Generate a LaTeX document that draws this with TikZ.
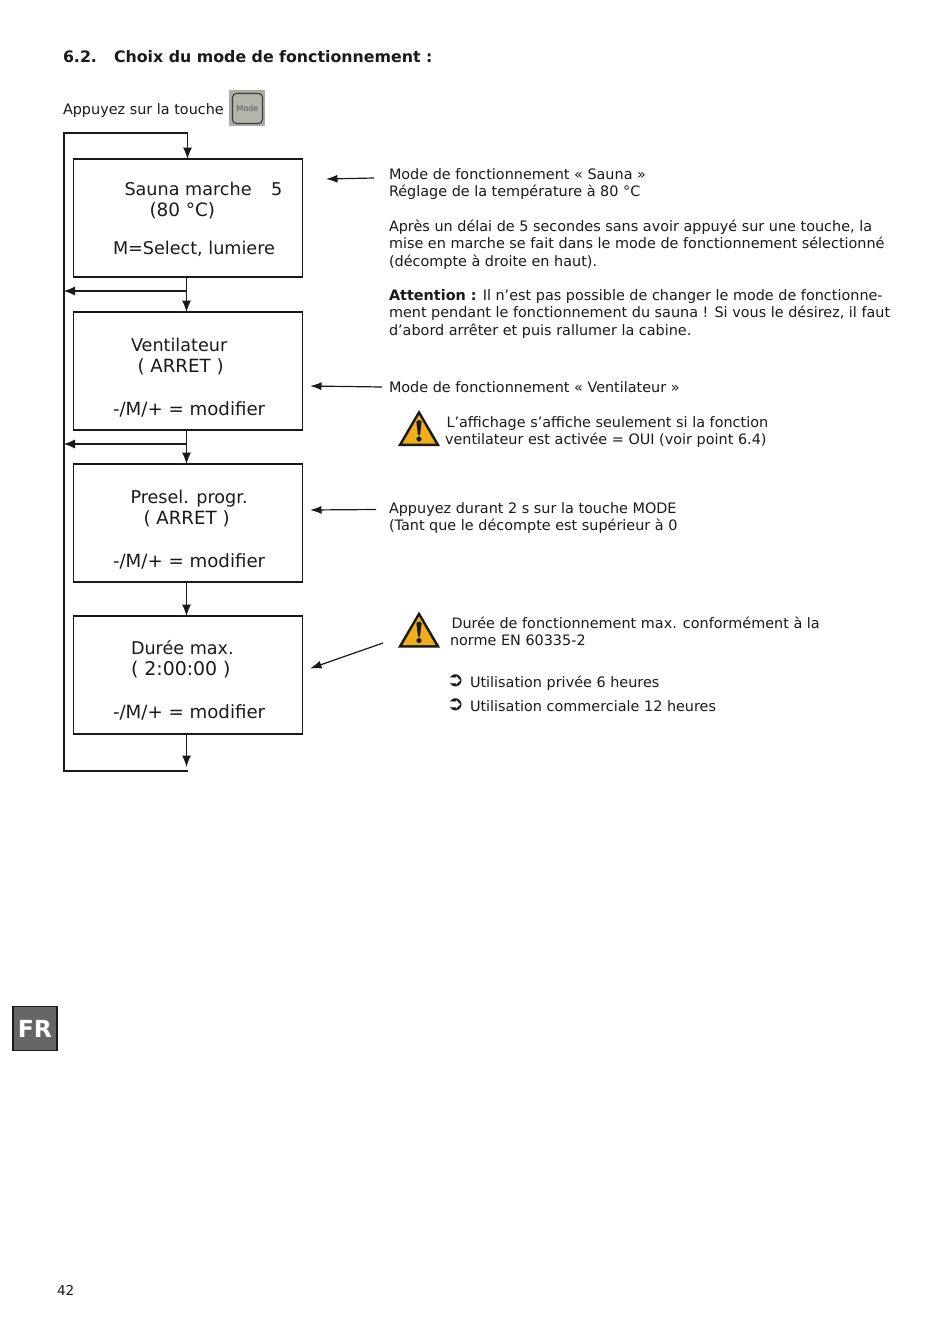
\documentclass[tikz,border=0pt]{standalone}
\usepackage{fontspec}
\setmainfont{DejaVu Sans}
\usetikzlibrary{arrows.meta}
\definecolor{ink}{HTML}{1A1A1A}
\definecolor{warn}{HTML}{F0AE1A}
\definecolor{keyout}{HTML}{ABABA2}
\definecolor{keyin}{HTML}{B4B4AB}
\tikzset{
 x=1pt,y=-1pt,
 every node/.style={inner sep=0pt,outer sep=0pt,text=ink},
 flowbox/.style={draw=ink,line width=1.8pt,fill=white,minimum width=229pt,minimum height=118pt},
 boxtext/.style={font=\fontsize{17.6}{21}\selectfont,anchor=base west},
 wide/.style={font=\fontsize{18.2}{21}\selectfont},
 body/.style={font=\fontsize{14.4}{17.4}\selectfont,align=left,anchor=north west},
 line/.style={draw=ink,line width=1.3pt},
 flow/.style={line,-{Latex[length=11.5pt,width=9pt]}},
 note/.style={draw=ink,line width=1.2pt,-{Latex[length=11.5pt,width=8pt]}},
}
\newcommand{\warnsign}[2]{%
 \fill[ink,line join=round] (#1,#2+36) -- (#1+21,#2) -- (#1+42,#2+36) -- cycle;
 \fill[warn] (#1+4.5,#2+33.5) -- (#1+21,#2+5) -- (#1+37.5,#2+33.5) -- cycle;
 \fill[ink] (#1+18.4,#2+12) .. controls (#1+19,#2+9.5) and (#1+23,#2+9.5) .. (#1+23.6,#2+12) -- (#1+22,#2+25) -- (#1+20,#2+25) -- cycle;
 \fill[ink] (#1+21,#2+29) circle (2.6);
}
\begin{document}
\begin{tikzpicture}
\useasboundingbox (0,0) rectangle (950,1336);
\fill[white] (0,0) rectangle (950,1336);
\node[anchor=base west,font=\fontsize{15.8}{18}\selectfont\bfseries] (title) at (63,62) {6.2.};
\node[anchor=base west,font=\fontsize{15.8}{18}\selectfont\bfseries] (titleb) at (114,62) {Choix du mode de fonctionnement :};
\node[anchor=base west,font=\fontsize{14.4}{17}\selectfont] (press) at (63,114) {Appuyez sur la touche};
% key
\node[fill=keyout,minimum width=36pt,minimum height=36pt] (key) at (247,108) {};
\node[draw=ink!85,line width=1.1pt,rounded corners=4pt,fill=keyin,minimum width=30pt,minimum height=30pt,font=\fontsize{8}{9}\selectfont,text=ink!75] (keyb) at (247.5,108.5) {Mode};
% boxes
\node[flowbox] (a) at (188,218) {};
\node[flowbox] (b) at (188,371) {};
\node[flowbox] (c) at (188,523) {};
\node[flowbox] (d) at (188,675) {};
\node[boxtext] (a1) at (124.5,195) {Sauna marche};
\node[boxtext] (a2) at (271,195) {5};
\node[boxtext,font=\fontsize{18.4}{21}\selectfont] (a3) at (149.5,216) {(80 °C)};
\node[boxtext] (a4) at (113,254) {M=Select, lumiere};
\node[boxtext] (b1) at (131,351.5) {Ventilateur};
\node[boxtext,wide] (b2) at (137.5,372.5) {( ARRET )};
\node[boxtext,wide] (b3) at (113,415) {-/M/+ = modifier};
\node[boxtext] (c1) at (130.5,503.5) {Presel. progr.};
\node[boxtext,wide] (c2) at (143.5,524.5) {( ARRET )};
\node[boxtext,wide] (c3) at (113,567) {-/M/+ = modifier};
\node[boxtext] (d1) at (131,654.5) {Durée max.};
\node[boxtext,font=\fontsize{18.9}{21}\selectfont] (d2) at (131,675.5) {( 2:00:00 )};
\node[boxtext,wide] (d3) at (113,718) {-/M/+ = modifier};
% flow coordinates
\coordinate (loopbl) at (64,771);
\coordinate (looptl) at (64,133);
\coordinate (loopend) at (188,771);
\coordinate (topin) at (187.5,133);
\coordinate (j1) at (186.5,291);
\coordinate (w1) at (63.5,291);
\coordinate (j2) at (186.5,444);
\coordinate (w2) at (63.5,444);
\coordinate (dout) at (186.5,767);
% flow lines
\draw[line] (loopend) -- (loopbl) -- (looptl) -- (topin);
\draw[flow] (topin) -- (topin |- a.north);
\draw[flow] (j1 |- a.south) -- (j1 |- b.north);
\draw[flow] (j1) -- (w1);
\draw[flow] (j2 |- b.south) -- (j2 |- c.north);
\draw[flow] (j2) -- (w2);
\draw[flow] (j2 |- c.south) -- (j2 |- d.north);
\draw[flow] (j2 |- d.south) -- (dout);
% note arrows
\coordinate (n1s) at (374,178);
\coordinate (n1e) at (326,179);
\coordinate (n2s) at (382,387);
\coordinate (n2e) at (310,386);
\coordinate (n3s) at (376,509.5);
\coordinate (n3e) at (310,510);
\coordinate (n4s) at (383,643);
\coordinate (n4e) at (310,668.5);
\draw[note] (n1s) -- (n1e);
\draw[note] (n2s) -- (n2e);
\draw[note] (n3s) -- (n3e);
\draw[note] (n4s) -- (n4e);
% notes
\node[body] (t1) at (389,168.5) {Mode de fonctionnement « Sauna »\\Réglage de la température à 80 °C};
\node[body] (t2) at (389,220) {Après un délai de 5 secondes sans avoir appuyé sur une touche, la\\mise en marche se fait dans le mode de fonctionnement sélectionné\\(décompte à droite en haut).};
\node[body] (t3) at (389,289.5) {\textbf{Attention :} Il n’est pas possible de changer le mode de fonctionne-\\ment pendant le fonctionnement du sauna ! Si vous le désirez, il faut\\d’abord arrêter et puis rallumer la cabine.};
\node[body] (t4) at (389,382) {Mode de fonctionnement « Ventilateur »};
\node[body] (t5) at (445,416.5) {\hspace{1.5pt}L’affichage s’affiche seulement si la fonction\\ventilateur est activée = OUI (voir point 6.4)};
\node[body] (t6) at (389,502.5) {Appuyez durant 2 s sur la touche MODE\\(Tant que le décompte est supérieur à 0};
\node[body] (t7) at (450,617) {\hspace{1.5pt}Durée de fonctionnement max. conformément à la\\norme EN 60335-2};
\node[anchor=base west,font=\fontsize{20}{20}\selectfont\bfseries] (b1m) at (447,686) {➲};
\node[anchor=base west,font=\fontsize{20}{20}\selectfont\bfseries] (b2m) at (447,710) {➲};
\node[anchor=base west,font=\fontsize{14.4}{17}\selectfont] (u1) at (470,687) {Utilisation privée 6 heures};
\node[anchor=base west,font=\fontsize{14.4}{17}\selectfont] (u2) at (470,711.5) {Utilisation commerciale 12 heures};
\warnsign{398}{410}
\warnsign{398}{611.5}
% language tab
\node[draw=ink,line width=1.2pt,fill=black!60,minimum width=44pt,minimum height=44pt,font=\fontsize{23.5}{26}\selectfont\bfseries,text=white] (fr) at (35,1028.5) {FR};
\node[anchor=base west,font=\fontsize{13.6}{15}\selectfont] (page) at (57,1295) {42};
\end{tikzpicture}
\end{document}
